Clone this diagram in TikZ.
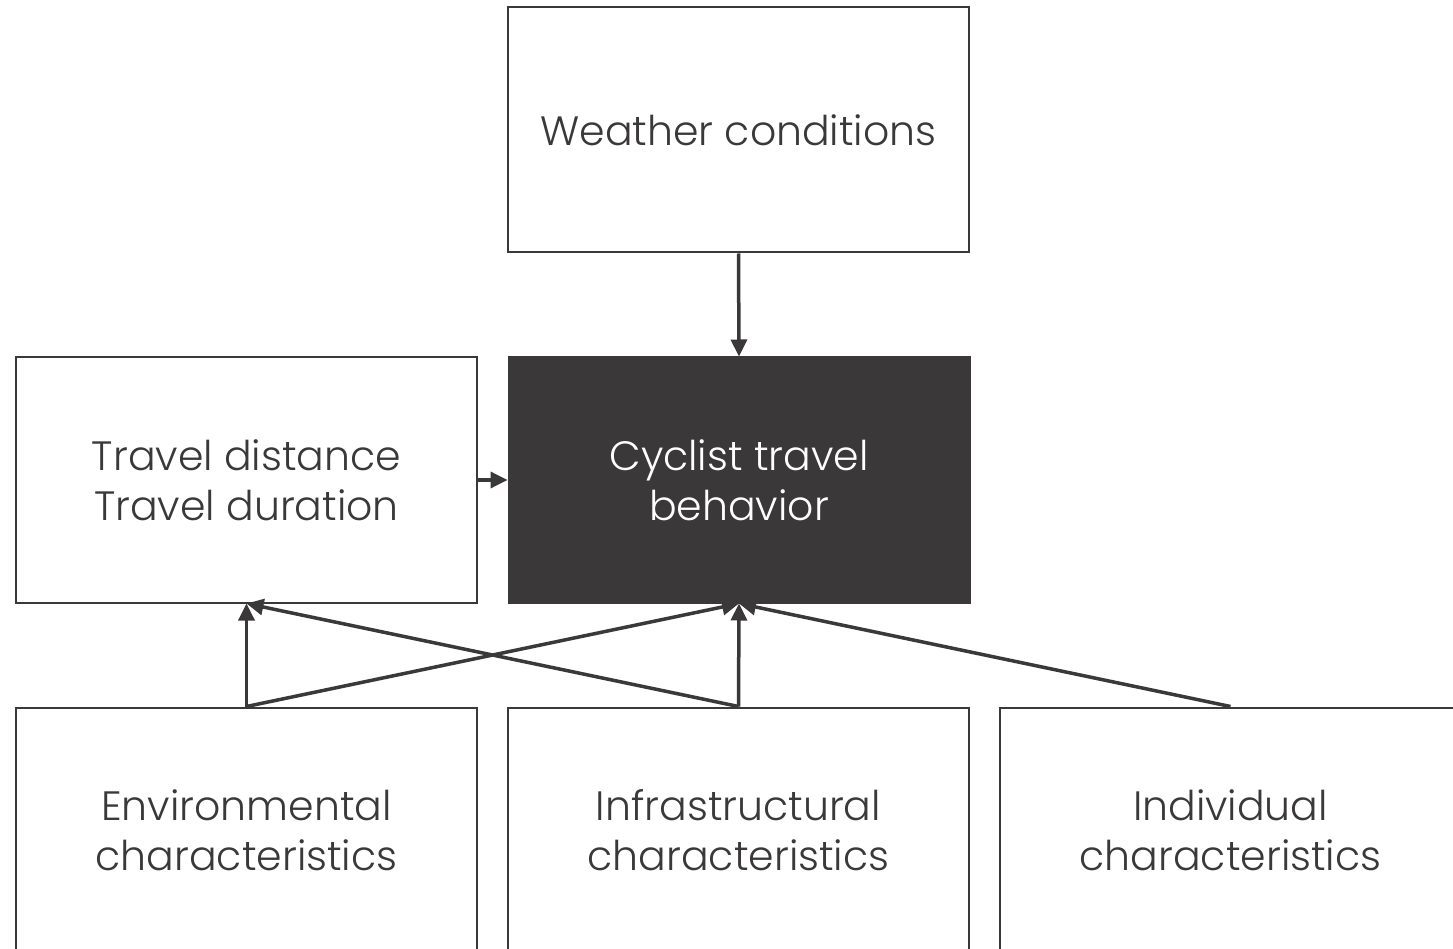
\documentclass[tikz,border=0pt]{standalone}
\usepackage{fontspec}
\setmainfont{Poppins Light}
\usetikzlibrary{arrows.meta}
\definecolor{ink}{HTML}{3A3838}
\begin{document}
\begin{tikzpicture}[x=1pt,y=-1pt,
  box/.style={draw=ink,line width=2pt,minimum width=461pt,minimum height=245pt,
    inner sep=0pt,align=center,text=ink,font=\fontsize{41}{50}\selectfont},
  darkbox/.style={box,fill=ink,text=white},
  link/.style={draw=ink,line width=3.5pt,-{Triangle[length=17pt,width=16pt]}}]
\useasboundingbox (0,0) rectangle (1453,949);
\clip (0,0) rectangle (1453,949);
\fill[white] (0,0) rectangle (1453,949);
\node[box] (weather) at (738.5,130) {Weather conditions};
\node[box] (travel) at (246.5,480) {Travel distance\\Travel duration};
\node[darkbox] (cyclist) at (739,480) {Cyclist travel\\behavior};
\node[box] (env) at (246.5,830) {Environmental\\characteristics};
\node[box] (infra) at (738.5,830) {Infrastructural\\characteristics};
\node[box] (indiv) at (1230.5,830) {Individual\\characteristics};
\draw[link] (weather.south) -- (cyclist.north);
\draw[link] (travel.east) -- (cyclist.west);
\draw[link] (env.north) -- (travel.south);
\draw[link] (env.north) -- (cyclist.south);
\draw[link] (infra.north) -- (cyclist.south);
\draw[link] (infra.north) -- (travel.south);
\draw[link] (indiv.north) -- (cyclist.south);
\end{tikzpicture}
\end{document}
